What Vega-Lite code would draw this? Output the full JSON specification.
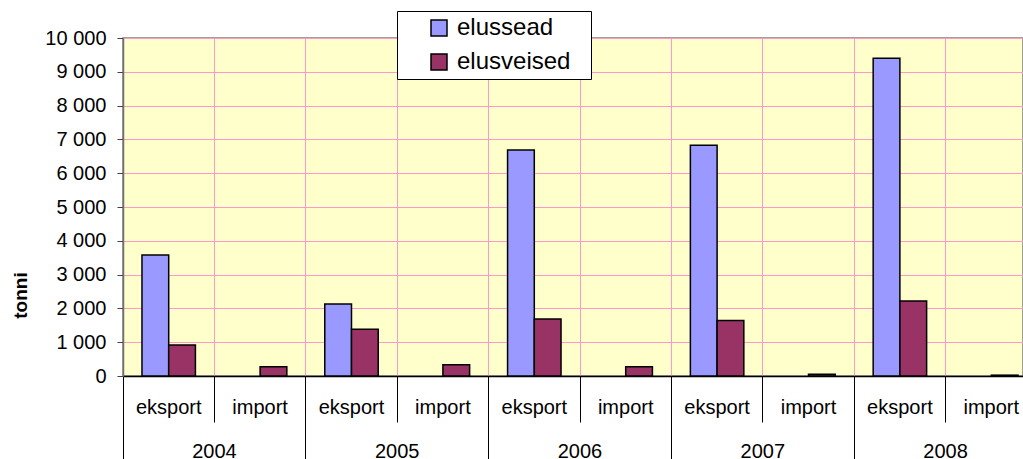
{
  "$schema": "https://vega.github.io/schema/vega-lite/v6.json",
  "width": 900,
  "height": 338,
  "autosize": "none",
  "padding": {"left": 123, "top": 38, "right": 0, "bottom": 83},
  "background": "white",
  "config": {
    "view": {"fill": "#FFFFCC", "stroke": "#808080", "strokeWidth": 1.5},
    "font": "Liberation Sans"
  },
  "data": {
    "values": [
      {"year": "2004", "cat": "2004|eksport", "series": "elussead", "value": 3580},
      {"year": "2004", "cat": "2004|eksport", "series": "elusveised", "value": 920},
      {"year": "2004", "cat": "2004|import", "series": "elusveised", "value": 275},
      {"year": "2005", "cat": "2005|eksport", "series": "elussead", "value": 2130},
      {"year": "2005", "cat": "2005|eksport", "series": "elusveised", "value": 1380},
      {"year": "2005", "cat": "2005|import", "series": "elusveised", "value": 335},
      {"year": "2006", "cat": "2006|eksport", "series": "elussead", "value": 6690},
      {"year": "2006", "cat": "2006|eksport", "series": "elusveised", "value": 1690},
      {"year": "2006", "cat": "2006|import", "series": "elusveised", "value": 275},
      {"year": "2007", "cat": "2007|eksport", "series": "elussead", "value": 6830},
      {"year": "2007", "cat": "2007|eksport", "series": "elusveised", "value": 1640},
      {"year": "2007", "cat": "2007|import", "series": "elusveised", "value": 50},
      {"year": "2008", "cat": "2008|eksport", "series": "elussead", "value": 9400},
      {"year": "2008", "cat": "2008|eksport", "series": "elusveised", "value": 2220},
      {"year": "2008", "cat": "2008|import", "series": "elusveised", "value": 25}
    ]
  },
  "layer": [
    {
      "mark": {"type": "bar", "stroke": "black", "strokeWidth": 1.5},
      "encoding": {
        "x": {
          "field": "cat",
          "type": "nominal",
          "scale": {
            "domain": ["2004|eksport", "2004|import", "2005|eksport", "2005|import", "2006|eksport", "2006|import", "2007|eksport", "2007|import", "2008|eksport", "2008|import"],
            "range": [0, 914],
            "paddingInner": 0,
            "paddingOuter": 0
          },
          "axis": {
            "orient": "bottom",
            "title": null,
            "bandPosition": 0,
            "grid": true,
            "gridColor": "#FF99CC",
            "gridWidth": 1,
            "ticks": true,
            "tickSize": 46,
            "tickColor": "black",
            "tickWidth": 1,
            "domainColor": "black",
            "domainWidth": 1.5,
            "labelExpr": "substring(datum.value, 5)",
            "labelOffset": 0,
            "labelPadding": -15,
            "labelBaseline": "middle",
            "labelFontSize": 20,
            "labelColor": "black",
            "labelAngle": 0,
            "labelOverlap": false,
            "labelBound": false,
            "labelFlush": false
          }
        },
        "xOffset": {
          "field": "series",
          "type": "nominal",
          "scale": {"domain": ["elussead", "elusveised"], "paddingInner": 0, "paddingOuter": 0.71}
        },
        "y": {
          "field": "value",
          "type": "quantitative",
          "scale": {"domain": [0, 10000], "nice": false},
          "axis": {
            "title": "tonni",
            "titleFontSize": 19,
            "titleFontWeight": "bold",
            "titleColor": "black",
            "titleX": -103,
            "titleY": 257,
            "titleAngle": -90,
            "titleAlign": "center",
            "titleBaseline": "middle",
            "values": [0, 1000, 2000, 3000, 4000, 5000, 6000, 7000, 8000, 9000, 10000],
            "labelExpr": "replace(format(datum.value, ','), ',', ' ')",
            "labelFontSize": 20,
            "labelColor": "black",
            "labelPadding": 11,
            "tickSize": 6,
            "tickColor": "#404040",
            "domainColor": "#707070",
            "domainWidth": 1.5,
            "grid": true,
            "gridColor": "#FF99CC",
            "gridWidth": 1
          }
        },
        "color": {
          "field": "series",
          "type": "nominal",
          "scale": {"domain": ["elussead", "elusveised"], "range": ["#9999FF", "#993366"]},
          "legend": {
            "title": "\u00a0",
            "titleOrient": "right",
            "titlePadding": 16,
            "titleFontSize": 10,
            "orient": "none",
            "legendX": 274,
            "legendY": -27,
            "fillColor": "white",
            "strokeColor": "black",
            "padding": 5,
            "labelFontSize": 24,
            "labelColor": "black",
            "symbolType": "square",
            "symbolSize": 256,
            "symbolStrokeColor": "black",
            "symbolStrokeWidth": 1.5,
            "symbolOpacity": 1,
            "rowPadding": 10,
            "labelOffset": 6,
            "symbolOffset": 25,
            "zindex": 2
          }
        }
      }
    },
    {
      "mark": {"type": "bar", "opacity": 0},
      "encoding": {
        "x": {
          "field": "year",
          "type": "nominal",
          "scale": {
            "domain": ["2004", "2005", "2006", "2007", "2008"],
            "range": [0, 914],
            "paddingInner": 0,
            "paddingOuter": 0
          },
          "axis": {
            "orient": "bottom",
            "title": null,
            "bandPosition": 0,
            "grid": false,
            "domain": false,
            "tickSize": 83,
            "tickColor": "black",
            "tickWidth": 1,
            "labelOffset": 0,
            "labelPadding": -8,
            "labelBaseline": "middle",
            "labelFontSize": 20,
            "labelColor": "black",
            "labelAngle": 0,
            "labelOverlap": false,
            "labelBound": false,
            "labelFlush": false
          }
        }
      }
    }
  ],
  "resolve": {"scale": {"x": "independent"}, "axis": {"x": "independent"}}
}
